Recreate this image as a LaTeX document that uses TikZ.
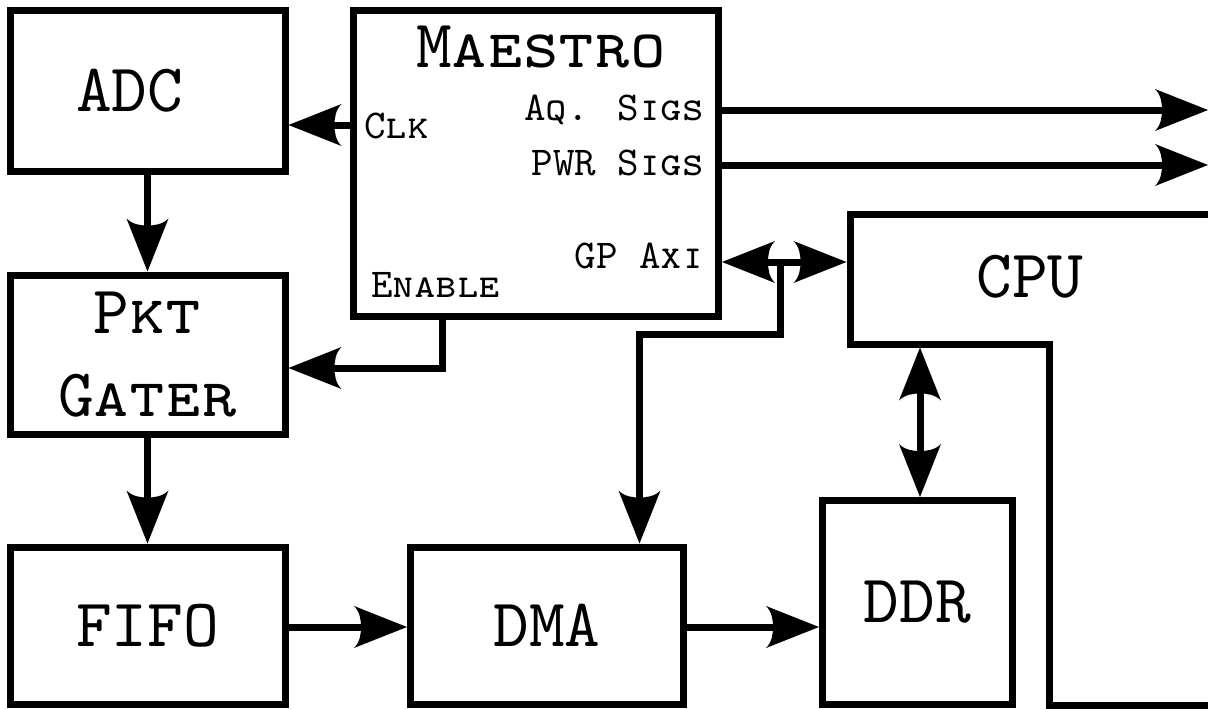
\documentclass[tikz,border=0pt]{standalone}
\usetikzlibrary{arrows.meta}
\newcommand\bigfnt{\fontsize{68}{80}\selectfont\ttfamily\scshape}
\newcommand\smallfnt{\fontsize{41}{48}\selectfont\ttfamily\scshape}
\pgfdeclarearrow{
  name = CStealth,
  cache = false,
  setup code = {
    \pgfarrowssettipend{0pt}
    \pgfarrowssetbackend{-53pt}
    \pgfarrowssetlineend{-44pt}
    \pgfarrowsupperhullpoint{-53pt}{21pt}
    \pgfarrowsupperhullpoint{0pt}{0pt}
  },
  drawing code = {
    \pgfpathmoveto{\pgfpointorigin}
    \pgfpathlineto{\pgfpoint{-53pt}{21pt}}
    \pgfpathcurveto{\pgfpoint{-47pt}{15pt}}{\pgfpoint{-46pt}{7pt}}{\pgfpoint{-46pt}{0pt}}
    \pgfpathcurveto{\pgfpoint{-46pt}{-7pt}}{\pgfpoint{-47pt}{-15pt}}{\pgfpoint{-53pt}{-21pt}}
    \pgfpathclose
    \pgfusepathqfill
  }
}
\tikzset{
  box/.style={draw, line width=7pt, inner sep=0pt, font=\bigfnt},
  lbl/.style={inner sep=0pt, font=\smallfnt},
  conn/.style={line width=7pt, -CStealth},
  dconn/.style={line width=7pt, CStealth-CStealth},
}
\begin{document}
\begin{tikzpicture}[x=1pt,y=-1pt]
\useasboundingbox (0,0) rectangle (1208,709);
\clip (0,0) rectangle (1208,709);
% boxes
\node[box, minimum width=275pt, minimum height=160pt] (adc) at (147.5,91) {ADC\phantom{X}};
\node[box, minimum width=275pt, minimum height=159pt, align=center, text depth=0pt] (pkt) at (147.5,354.5) {\raisebox{3pt}{Pkt}\\Gater};
\node[box, minimum width=275pt, minimum height=157pt] (fifo) at (147.5,625.5) {FIFO};
\node[box, minimum width=273pt, minimum height=157pt] (dma) at (547,625.5) {DMA};
\node[box, minimum width=190pt, minimum height=203.5pt] (ddr) at (917.5,602.25) {DDR};
\node[box, minimum width=365pt, minimum height=305.5pt] (maestro) at (536,163.75) {};
% Maestro labels
\node[inner sep=0pt, font=\bigfnt, anchor=base] (mtitle) at (541,68) {Maestro};
\node[lbl, anchor=base west] (clk) at (364,138) {Clk};
\node[lbl, anchor=base west] (enable) at (371,297) {Enable};
\node[lbl, anchor=base east] (aq) at (704,120) {Aq. Sigs};
\node[lbl, anchor=base east] (pwr) at (704,175) {PWR Sigs};
\node[lbl, anchor=base east] (gp) at (704,268) {GP Axi};
% CPU outline (clipped at picture edge)
\draw[line width=7pt] (1230,214.5) -- (850,214.5) -- (850,344) -- (1049.5,344) -- (1049.5,705) -- (1230,705);
\node[inner sep=0pt, font=\bigfnt] (cpu) at (1030,277) {CPU};
\coordinate (cpuW) at (846.5,262);
\coordinate (cpuS) at (920,347.5);
\coordinate (edgeA) at (1208,110);
\coordinate (edgeB) at (1208,165);
\coordinate (j) at (780,262);
\coordinate (k) at (639.5,334);
% connectors
\draw[conn] (maestro.west |- 0,125) -- (adc.east |- 0,125);
\draw[conn] (adc.south) -- (pkt.north);
\draw[conn] (pkt.south) -- (fifo.north);
\draw[conn] (fifo.east |- 0,627) -- (dma.west |- 0,627);
\draw[conn] (dma.east |- 0,627) -- (ddr.west |- 0,627);
\draw[conn] (maestro.south -| 442,0) |- (pkt.east |- 0,368);
\draw[conn] (maestro.east |- edgeA) -- (edgeA);
\draw[conn] (maestro.east |- edgeB) -- (edgeB);
\draw[line width=7pt] (j) |- (k) -- (k |- 0,520);
\draw[conn] (k |- 0,515) -- (k |- dma.north);
\draw[dconn] (maestro.east |- cpuW) -- (cpuW);
\draw[dconn] (cpuS) -- (cpuS |- ddr.north);
\end{tikzpicture}
\end{document}
